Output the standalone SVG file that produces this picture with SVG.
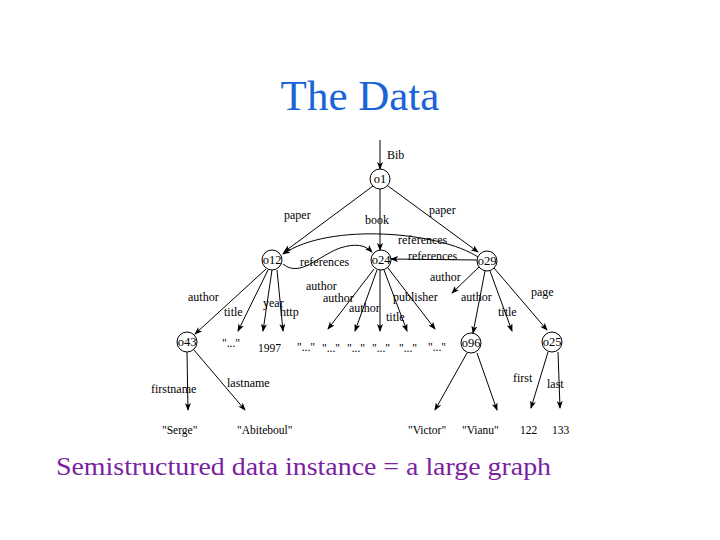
<svg xmlns="http://www.w3.org/2000/svg" width="720" height="540" viewBox="0 0 720 540">
<defs>
<marker id="ah" markerWidth="8" markerHeight="6" refX="7" refY="3" orient="auto" markerUnits="userSpaceOnUse">
<path d="M0,0 L8,3 L0,6 L2,3 z" fill="#000"/>
</marker>
<style>
.e{stroke:#000;stroke-width:1;fill:none;marker-end:url(#ah)}
.n circle{fill:#fff;stroke:#000;stroke-width:1}
.n text{font-family:"Liberation Serif",serif;font-size:12.5px;text-anchor:middle;fill:#000}
.l{font-family:"Liberation Serif",serif;font-size:12px;fill:#000}
.v{font-family:"Liberation Serif",serif;font-size:11.5px;fill:#000}
</style>
</defs>
<rect width="720" height="540" fill="#fff"/>
<text x="360" y="110" font-family="Liberation Serif, serif" font-size="43" fill="#1a64d8" text-anchor="middle">The Data</text>
<text x="56" y="475" font-family="Liberation Serif, serif" font-size="25" fill="#7a1fa0" textLength="495" lengthAdjust="spacingAndGlyphs">Semistructured data instance = a large graph</text>

<g id="connectors">
<path class="e" d="M380,140 L380,169"/>
<path class="e" d="M373,186 L284,252"/>
<path class="e" d="M380,189 L380,250"/>
<path class="e" d="M388,186 L478,252"/>
<path class="e" d="M478,257 C440,232 330,222 283,254"/>
<path class="e" d="M477,260 L391,259"/>
<path class="e" d="M283,264 C300,278 318,256 340,248 C356,243 365,245 372,252"/>
<path class="e" d="M266,269 L195,334"/>
<path class="e" d="M268,270 L238,331"/>
<path class="e" d="M272,270 L263,331"/>
<path class="e" d="M277,270 L283,331"/>
<path class="e" d="M374,269 L328,329"/>
<path class="e" d="M377,270 L355,331"/>
<path class="e" d="M380,270 L380,331"/>
<path class="e" d="M384,270 L407,331"/>
<path class="e" d="M388,268 L435,329"/>
<path class="e" d="M479,267 L452,293"/>
<path class="e" d="M485,271 L473,333"/>
<path class="e" d="M490,271 L512,331"/>
<path class="e" d="M494,268 L547,330"/>
<path class="e" d="M187,352 L188,410"/>
<path class="e" d="M194,350 L245,410"/>
<path class="e" d="M467,353 L435,410"/>
<path class="e" d="M477,353 L497,410"/>
<path class="e" d="M548,352 L531,408"/>
<path class="e" d="M558,352 L560,408"/>
</g>

<g id="labels">
<text class="l" x="387" y="159">Bib</text>
<text class="l" x="284" y="219">paper</text>
<text class="l" x="365" y="224">book</text>
<text class="l" x="429" y="214">paper</text>
<text class="l" x="398" y="244">references</text>
<text class="l" x="408" y="260">references</text>
<text class="l" x="300" y="266">references</text>
<text class="l" x="188" y="301">author</text>
<text class="l" x="224" y="316">title</text>
<text class="l" x="263" y="307">year</text>
<text class="l" x="280" y="316">http</text>
<text class="l" x="306" y="290">author</text>
<text class="l" x="323" y="302">author</text>
<text class="l" x="349" y="312">author</text>
<text class="l" x="393" y="301">publisher</text>
<text class="l" x="386" y="321">title</text>
<text class="l" x="430" y="281">author</text>
<text class="l" x="461" y="301">author</text>
<text class="l" x="498" y="316">title</text>
<text class="l" x="531" y="296">page</text>
<text class="l" x="151" y="393">firstname</text>
<text class="l" x="227" y="387">lastname</text>
<text class="l" x="513" y="382">first</text>
<text class="l" x="547" y="388">last</text>
</g>

<g id="values">
<text class="v" x="222" y="347">"..."</text>
<text class="v" x="258" y="352">1997</text>
<text class="v" x="297" y="351">"..."</text>
<text class="v" x="322" y="352">"..."</text>
<text class="v" x="347" y="352">"..."</text>
<text class="v" x="372" y="352">"..."</text>
<text class="v" x="399" y="352">"..."</text>
<text class="v" x="428" y="351">"..."</text>
<text class="v" x="162" y="434">"Serge"</text>
<text class="v" x="237" y="434">"Abiteboul"</text>
<text class="v" x="408" y="434">"Victor"</text>
<text class="v" x="462" y="434">"Vianu"</text>
<text class="v" x="520" y="434">122</text>
<text class="v" x="552" y="434">133</text>
</g>

<g id="o1" class="n"><circle cx="380" cy="179" r="10"/><text x="380" y="183">o1</text></g>
<g id="o12" class="n"><circle cx="272" cy="260" r="10"/><text x="272" y="264">o12</text></g>
<g id="o24" class="n"><circle cx="381" cy="260" r="10"/><text x="381" y="264">o24</text></g>
<g id="o29" class="n"><circle cx="487" cy="261" r="10"/><text x="487" y="265">o29</text></g>
<g id="o43" class="n"><circle cx="187" cy="342" r="10"/><text x="187" y="346">o43</text></g>
<g id="o96" class="n"><circle cx="471" cy="343" r="10"/><text x="471" y="347">o96</text></g>
<g id="o25" class="n"><circle cx="552" cy="342" r="10"/><text x="552" y="346">o25</text></g>
</svg>
